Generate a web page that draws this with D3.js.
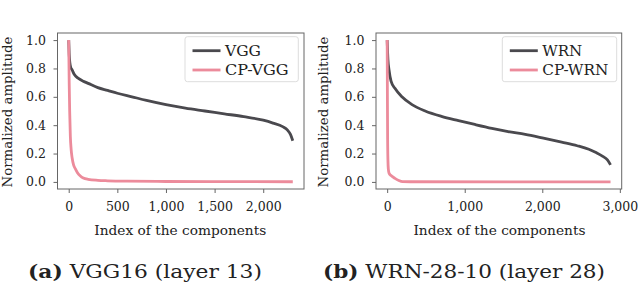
<!DOCTYPE html>
<html>
<head>
<meta charset="utf-8">
<script src="https://cdn.jsdelivr.net/npm/d3@7"></script>
<style>
  html, body { margin: 0; padding: 0; background: #fff; }
  svg text { font-family: "DejaVu Serif", serif; fill: #222; }
</style>
</head>
<body>
<svg id="chart" width="640" height="290"></svg>
<script>
// 資料
const vggIndex = [0, 5, 12, 20, 35, 60, 100, 150, 200, 300, 400, 500, 650, 800, 1000, 1200, 1400, 1600, 1800, 2000, 2100, 2200, 2250, 2280, 2304];
const vggVals  = [1.0, 0.9, 0.84, 0.81, 0.79, 0.755, 0.73, 0.71, 0.695, 0.665, 0.645, 0.625, 0.6, 0.575, 0.545, 0.52, 0.5, 0.48, 0.46, 0.435, 0.415, 0.39, 0.365, 0.335, 0.29];
const cpVggIndex = [0, 5, 10, 17, 25, 35, 50, 70, 90, 120, 150, 200, 300, 400, 600, 1000, 1500, 2304];
const cpVggVals  = [1.0, 0.7, 0.5, 0.32, 0.23, 0.17, 0.12, 0.09, 0.065, 0.042, 0.028, 0.018, 0.011, 0.008, 0.005, 0.003, 0.002, 0.001];

const wrnIndex = [0, 10, 24, 50, 100, 190, 320, 490, 700, 920, 1130, 1350, 1560, 1780, 2000, 2250, 2450, 2600, 2700, 2780, 2840, 2880];
const wrnVals  = [1.0, 0.86, 0.79, 0.71, 0.66, 0.6, 0.545, 0.5, 0.462, 0.432, 0.405, 0.378, 0.355, 0.335, 0.31, 0.28, 0.255, 0.23, 0.205, 0.18, 0.155, 0.12];
const cpWrnIndex = [0, 3, 6, 10, 15, 25, 50, 100, 150, 200, 300, 2880];
const cpWrnVals  = [1.0, 0.6, 0.3, 0.15, 0.09, 0.06, 0.045, 0.025, 0.01, 0.002, 0.001, 0.0];

const leftTicks = [0, 500, 1000, 1500, 2000];
const rightTicks = [0, 1000, 2000, 3000];
const yTicks = [0, 0.2, 0.4, 0.6, 0.8, 1.0];

const leftNames = ['VGG', 'CP-VGG'];
const rightNames = ['WRN', 'CP-WRN'];
const captions = [['(a)', ' VGG16 (layer 13)'], ['(b)', ' WRN-28-10 (layer 28)']];

const colors = ['#4a494e', '#ec8b9b'];
const svg = d3.select('#chart');

function zip(xs, ys) { return xs.map((x, i) => ({x: x, y: ys[i]})); }

function panel(opt) {
  const box = opt.box;
  const x = d3.scaleLinear().domain(opt.xDomain).range([box.x0, box.x1]);
  const y = d3.scaleLinear().domain([-0.05, 1.05]).range([box.y1, box.y0]);
  const g = svg.append('g');

  // 曲線
  const line = d3.line().x(d => x(d.x)).y(d => y(d.y)).curve(d3.curveMonotoneX);
  opt.series.forEach((s, i) => {
    g.append('path')
      .datum(s)
      .attr('d', line)
      .attr('fill', 'none')
      .attr('stroke', colors[i])
      .attr('stroke-width', 2.8)
      .attr('stroke-linejoin', 'round');
  });

  // 外框
  g.append('rect')
    .attr('x', box.x0).attr('y', box.y0)
    .attr('width', box.x1 - box.x0).attr('height', box.y1 - box.y0)
    .attr('fill', 'none').attr('stroke', '#666').attr('stroke-width', 1);

  // X 軸
  const xa = g.append('g')
    .attr('transform', `translate(0,${box.y1})`)
    .call(d3.axisBottom(x).tickValues(opt.xTicks).tickFormat(d3.format(',')).tickSize(4).tickSizeOuter(0).tickPadding(9.5));
  xa.select('.domain').remove();
  xa.selectAll('line').attr('stroke', '#666');
  xa.selectAll('text').attr('font-size', 12.5).attr('fill', '#222').attr('font-family', 'DejaVu Serif');

  // Y 軸
  const ya = g.append('g')
    .attr('transform', `translate(${box.x0},0)`)
    .call(d3.axisLeft(y).tickValues(yTicks).tickFormat(d3.format('.1f')).tickSize(4).tickSizeOuter(0).tickPadding(7.5));
  ya.select('.domain').remove();
  ya.selectAll('line').attr('stroke', '#666');
  ya.selectAll('text').attr('font-size', 12.5).attr('fill', '#222').attr('font-family', 'DejaVu Serif');

  // 軸標題
  g.append('text')
    .attr('x', (box.x0 + box.x1) / 2 + opt.xTitleShift).attr('y', 235)
    .attr('text-anchor', 'middle').attr('font-size', 12.5)
    .attr('textLength', 172).attr('lengthAdjust', 'spacingAndGlyphs')
    .text('Index of the components');
  g.append('text')
    .attr('transform', `translate(${opt.yTitleX},112) rotate(-90)`)
    .attr('text-anchor', 'middle').attr('font-size', 12.5)
    .attr('textLength', 151).attr('lengthAdjust', 'spacingAndGlyphs')
    .text('Normalized amplitude');

  // 圖例
  const lg = opt.legend;
  g.append('rect')
    .attr('x', lg.x0).attr('y', 36.7).attr('width', lg.x1 - lg.x0).attr('height', 45)
    .attr('rx', 2.5).attr('fill', '#fff').attr('fill-opacity', 0.8)
    .attr('stroke', '#ddd').attr('stroke-width', 1);
  opt.names.forEach((n, i) => {
    const yy = 50.7 + i * 19.3;
    g.append('line')
      .attr('x1', lg.x0 + 7.5).attr('x2', lg.x0 + 35.5)
      .attr('y1', yy).attr('y2', yy)
      .attr('stroke', colors[i]).attr('stroke-width', 2.8);
    g.append('text')
      .attr('x', lg.x0 + 40).attr('y', yy + 5)
      .attr('font-size', 14)
      .attr('textLength', lg.widths[i]).attr('lengthAdjust', 'spacingAndGlyphs')
      .text(n);
  });

  // 圖說
  const cap = g.append('text')
    .attr('x', opt.capX).attr('y', 278).attr('font-size', 18)
    .attr('textLength', opt.capW).attr('lengthAdjust', 'spacingAndGlyphs');
  cap.append('tspan').attr('font-weight', 'bold').text(opt.caption[0]);
  cap.append('tspan').text(opt.caption[1]);
}

panel({
  box: {x0: 57.5, x1: 304, y0: 33, y1: 189},
  xDomain: [-115.2, 2419.2],
  xTicks: leftTicks,
  series: [zip(vggIndex, vggVals), zip(cpVggIndex, cpVggVals)],
  names: leftNames,
  legend: {x0: 185, x1: 298.3, widths: [36, 63.7]},
  xTitleShift: -0.5,
  yTitleX: 11.5,
  caption: captions[0], capX: 28, capW: 234
});

panel({
  box: {x0: 376, x1: 621.7, y0: 33, y1: 189},
  xDomain: [-144, 3024],
  xTicks: rightTicks,
  series: [zip(wrnIndex, wrnVals), zip(cpWrnIndex, cpWrnVals)],
  names: rightNames,
  legend: {x0: 502.3, x1: 616.7, widths: [40, 66]},
  xTitleShift: 0.6,
  yTitleX: 328,
  caption: captions[1], capX: 323, capW: 282
});
</script>
</body>
</html>
